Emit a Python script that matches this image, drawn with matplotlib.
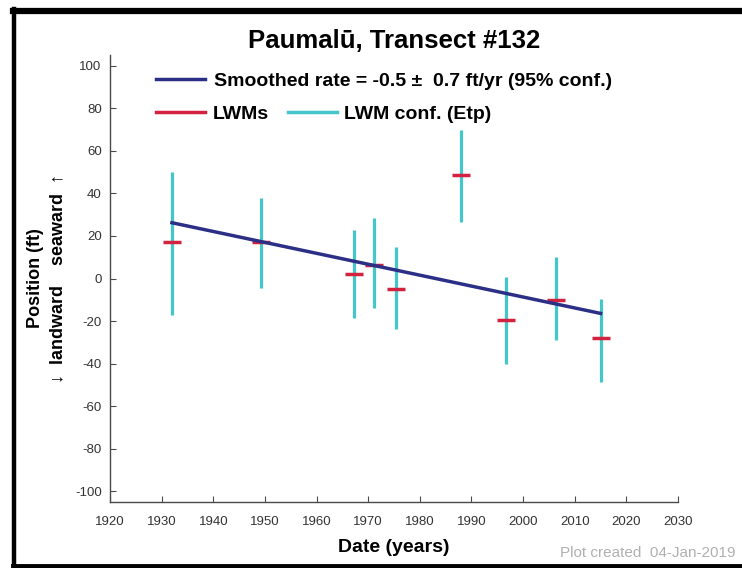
import matplotlib
matplotlib.use("Agg")
import matplotlib.pyplot as plt
from matplotlib.lines import Line2D

plt.rcParams['font.family'] = ['Liberation Sans', 'DejaVu Sans']
plt.rcParams['axes.unicode_minus'] = False

# shoreline positions
years = [1932.0, 1949.3, 1967.2, 1971.1, 1975.3, 1988.0, 1996.6, 2006.4, 2015.0]
lwm = [17.0, 17.0, 2.0, 6.5, -5.0, 48.5, -19.6, -10.0, -28.0]
conf_top = [50.0, 38.0, 23.0, 28.5, 15.0, 70.0, 0.5, 10.0, -9.5]
conf_bottom = [-17.0, -4.5, -18.5, -14.0, -23.5, 26.5, -40.0, -29.0, -48.5]

# smoothed rate line (end points)
rate_years = [1932.0, 2015.0]
rate_pos = [26.2, -16.4]

x_ticks = list(range(1920, 2031, 10))
y_ticks = list(range(-100, 101, 20))

navy = '#2c2f86'
red = '#d3223f'
cyan = '#45c6cb'
grey = '#4a4a4a'

fig = plt.figure(figsize=(7.42, 5.68), dpi=100)
ax = fig.add_axes([110 / 742, 1 - 502 / 568, 568 / 742, 447 / 568])

ax.vlines(years, conf_bottom, conf_top, color=cyan, linewidth=2.3, zorder=2)
ax.plot(years, lwm, linestyle='none', marker='_', markersize=13,
        markeredgewidth=2.5, color=red, zorder=3)
ax.plot(rate_years, rate_pos, color=navy, linewidth=2.5, zorder=4)

ax.set_xlim(1920, 2030)
ax.set_ylim(-105, 105)
ax.set_xticks(x_ticks)
ax.set_yticks(y_ticks)
ax.tick_params(direction='in', length=4, width=0.8, color=grey,
               labelsize=9.5, labelcolor='#333333')
ax.tick_params(axis='y', pad=6)
ax.tick_params(axis='x', pad=10)
for side in ['top', 'right']:
    ax.spines[side].set_visible(False)
for side in ['left', 'bottom']:
    ax.spines[side].set_color(grey)
    ax.spines[side].set_linewidth(1.0)

ax.set_title('Paumalū, Transect #132', fontsize=18.5, fontweight='bold', pad=5)
ax.set_xlabel('Date (years)', fontsize=14, fontweight='bold', labelpad=8)
ax.set_ylabel('Position (ft)\n↓  landward    seaward  ↑', fontsize=13,
              fontweight='bold', labelpad=6, linespacing=1.4)

h1 = [Line2D([], [], color=navy, linewidth=2.5)]
leg1 = ax.legend(h1, ['Smoothed rate = -0.5 \u00b1  0.7 ft/yr (95% conf.)'],
                 loc='center left', bbox_to_anchor=(0.081, 0.942), frameon=False,
                 borderpad=0, borderaxespad=0, handlelength=2.5, handletextpad=0.5,
                 prop={'weight': 'bold', 'size': 14})
ax.add_artist(leg1)
h2 = [Line2D([], [], color=red, linewidth=2.5), Line2D([], [], color=cyan, linewidth=2.5)]
ax.legend(h2, ['LWMs', 'LWM conf. (Etp)'], ncol=2,
          loc='center left', bbox_to_anchor=(0.081, 0.868), frameon=False,
          borderpad=0, borderaxespad=0, handlelength=2.5, handletextpad=0.4,
          columnspacing=1.0, prop={'weight': 'bold', 'size': 14})

fig.text(735 / 742, 1 - 553 / 568, 'Plot created  04-Jan-2019', ha='right',
         va='center', fontsize=11, color='#b0b0b0')

# black frame (top, left and bottom edges)
fig.add_artist(Line2D([13 / 742, 1], [1 - 11 / 568, 1 - 11 / 568], color='black',
                      linewidth=4.5, transform=fig.transFigure))
fig.add_artist(Line2D([14 / 742, 14 / 742], [0, 1 - 9 / 568], color='black',
                      linewidth=3.2, transform=fig.transFigure))
fig.add_artist(Line2D([13 / 742, 1], [2 / 568, 2 / 568], color='black',
                      linewidth=3.5, transform=fig.transFigure))

fig.savefig('out.png', dpi=100)
